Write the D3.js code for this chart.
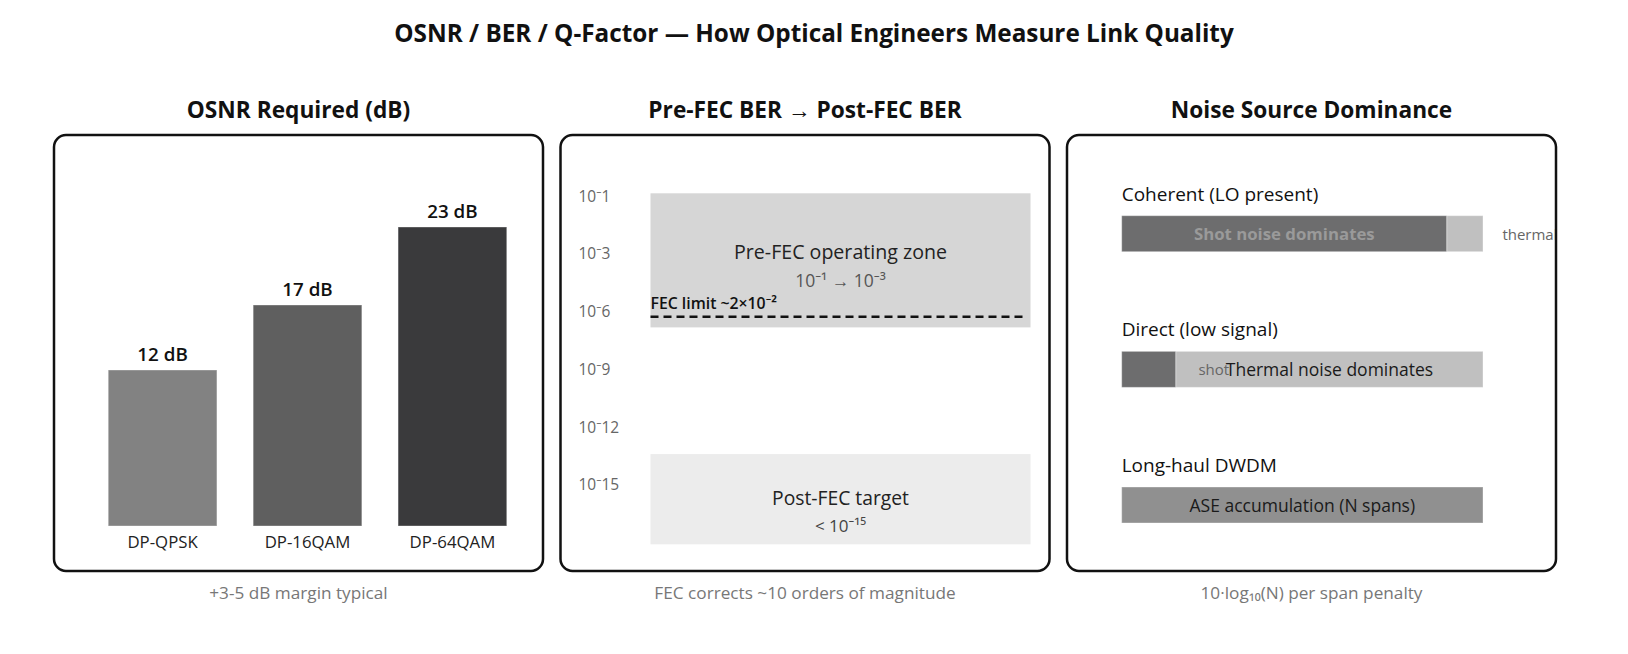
<!DOCTYPE html>
<html>
<head>
<meta charset="utf-8">
<script src="https://cdn.jsdelivr.net/npm/d3@7/dist/d3.min.js"></script>
<style>
  html, body { margin: 0; padding: 0; background: #fff; }
  svg { display: block; font-family: "Open Sans", "Noto Sans", sans-serif; }
</style>
</head>
<body>
<svg id="chart" width="1628" height="654"></svg>
<script>
// ---------- data ----------
const chartTitle = "OSNR / BER / Q-Factor \u2014 How Optical Engineers Measure Link Quality";
const panelTitles = ["OSNR Required (dB)", "Pre-FEC BER \u2192 Post-FEC BER", "Noise Source Dominance"];
const panelCaptions = ["+3-5 dB margin typical", "FEC corrects ~10 orders of magnitude", "10\u00b7log\u2081\u2080(N) per span penalty"];

// Panel 1: OSNR required
const formats = ["DP-QPSK", "DP-16QAM", "DP-64QAM"];
const osnrValues = [12, 17, 23];
const barColors = ["#828282", "#5f5f5f", "#3a3a3c"];

// Panel 2: BER ladder
const berTickLabels = ["10\u207b1", "10\u207b3", "10\u207b6", "10\u207b9", "10\u207b12", "10\u207b15"];
const berZones = [
  { name: "Pre-FEC operating zone", sub: "10\u207b\u00b9 \u2192 10\u207b\u00b3", from: 0, to: 38.2, fill: "#d6d6d6" },
  { name: "Post-FEC target", sub: "< 10\u207b\u00b9\u2075", from: 74.3, to: 100, fill: "#ececec" }
];
const fecLimit = { label: "FEC limit ~2\u00d710\u207b\u00b2", pos: 35.2 };

// Panel 3: noise source dominance (share of bar, %)
const noiseRows = ["Coherent (LO present)", "Direct (low signal)", "Long-haul DWDM"];
const shotShare = [90, 15, 0];
const thermalShare = [10, 85, 0];
const aseShare = [0, 0, 100];
const rowMainLabels = ["Shot noise dominates", "Thermal noise dominates", "ASE accumulation (N spans)"];
const rowMinorLabels = ["thermal", "shot", ""];

// ---------- layout ----------
const svg = d3.select("#chart");
const W = 1628;
const panelW = 489, panelH = 436, panelTop = 135;
const panelX = d3.scalePoint().domain([0, 1, 2]).range([54, 1067]);

svg.append("text")
  .attr("x", W / 2).attr("y", 42)
  .attr("text-anchor", "middle")
  .attr("font-size", 24.3).attr("font-weight", 700).attr("fill", "#111")
  .text(chartTitle);

const defs = svg.append("defs");

[0, 1, 2].forEach(i => {
  const x0 = panelX(i);
  defs.append("clipPath").attr("id", "clip" + i)
    .append("rect").attr("x", x0 + 1).attr("y", panelTop).attr("width", panelW - 2).attr("height", panelH).attr("rx", 12);
  svg.append("text")
    .attr("x", x0 + panelW / 2).attr("y", 118)
    .attr("text-anchor", "middle")
    .attr("font-size", 22.7).attr("font-weight", 700).attr("fill", "#111")
    .text(panelTitles[i]);
  svg.append("text")
    .attr("x", x0 + panelW / 2).attr("y", 599)
    .attr("text-anchor", "middle")
    .attr("font-size", 17.2).attr("fill", "#777")
    .text(panelCaptions[i]);
});

// ---------- Panel 1 ----------
(function () {
  const x0 = panelX(0);
  const g = svg.append("g").attr("clip-path", "url(#clip0)");
  const x = d3.scaleBand().domain(formats).range([x0 + 18, x0 + panelW]).padding(0.25);
  const y = d3.scaleLinear().domain([0, 25]).range([526, 201]);
  g.selectAll("rect.bar").data(formats).join("rect")
    .attr("class", "bar")
    .attr("x", d => x(d)).attr("width", x.bandwidth())
    .attr("y", (d, i) => y(osnrValues[i])).attr("height", (d, i) => y(0) - y(osnrValues[i]))
    .attr("fill", (d, i) => barColors[i])
    .attr("stroke", "rgba(255,255,255,0.35)").attr("stroke-width", 1);
  g.selectAll("text.val").data(formats).join("text")
    .attr("class", "val")
    .attr("x", d => x(d) + x.bandwidth() / 2)
    .attr("y", (d, i) => y(osnrValues[i]) - 9)
    .attr("text-anchor", "middle")
    .attr("font-size", 18.8).attr("font-weight", 600).attr("fill", "#111")
    .text((d, i) => osnrValues[i] + " dB");
  g.selectAll("text.cat").data(formats).join("text")
    .attr("class", "cat")
    .attr("x", d => x(d) + x.bandwidth() / 2)
    .attr("y", y(0) + 22)
    .attr("text-anchor", "middle")
    .attr("font-size", 16.8).attr("fill", "#222")
    .text(d => d);
})();

// ---------- Panel 2 ----------
(function () {
  const x0 = panelX(1);
  const g = svg.append("g").attr("clip-path", "url(#clip1)");
  const yT = d3.scalePoint().domain(berTickLabels).range([195.7, 484.3]);
  const yZ = d3.scaleLinear().domain([0, 100]).range([193.3, 544.3]);
  const xZ = d3.scaleLinear().domain([0, 100]).range([x0 + 90, x0 + 470]);
  g.selectAll("text.tick").data(berTickLabels).join("text")
    .attr("class", "tick")
    .attr("x", x0 + 18).attr("y", d => yT(d))
    .attr("dominant-baseline", "central")
    .attr("font-size", 15.5).attr("fill", "#666")
    .text(d => d);
  g.selectAll("rect.zone").data(berZones).join("rect")
    .attr("class", "zone")
    .attr("x", xZ(0)).attr("width", xZ(100) - xZ(0))
    .attr("y", d => yZ(d.from)).attr("height", d => yZ(d.to) - yZ(d.from))
    .attr("fill", d => d.fill);
  // zone labels
  const pre = berZones[0], post = berZones[1];
  const cx = (xZ(0) + xZ(100)) / 2;
  g.append("text").attr("x", cx).attr("y", yZ(pre.from) + 66)
    .attr("text-anchor", "middle").attr("font-size", 19.6).attr("fill", "#222").text(pre.name);
  g.append("text").attr("x", cx).attr("y", yZ(pre.from) + 94)
    .attr("text-anchor", "middle").attr("font-size", 17.5).attr("fill", "#555").text(pre.sub);
  g.append("text").attr("x", cx).attr("y", yZ(post.from) + 51)
    .attr("text-anchor", "middle").attr("font-size", 19.3).attr("fill", "#222").text(post.name);
  g.append("text").attr("x", cx).attr("y", yZ(post.from) + 78)
    .attr("text-anchor", "middle").attr("font-size", 17).attr("fill", "#444").text(post.sub);
  // FEC limit
  g.append("line")
    .attr("x1", xZ(0)).attr("x2", xZ(98.8))
    .attr("y1", yZ(fecLimit.pos)).attr("y2", yZ(fecLimit.pos))
    .attr("stroke", "#111").attr("stroke-width", 2.5).attr("stroke-dasharray", "8,5");
  g.append("text").attr("x", xZ(0)).attr("y", yZ(fecLimit.pos) - 8)
    .attr("font-size", 15.8).attr("font-weight", 600).attr("fill", "#111").text(fecLimit.label);
})();

// ---------- Panel 3 ----------
(function () {
  const x0 = panelX(2);
  const g = svg.append("g").attr("clip-path", "url(#clip2)");
  const yR = d3.scalePoint().domain(noiseRows).range([215.7, 487]);
  const x = d3.scaleLinear().domain([0, 100]).range([x0 + 54.7, x0 + 416]);
  const barH = 36;
  g.selectAll("text.rowlab").data(noiseRows).join("text")
    .attr("class", "rowlab")
    .attr("x", x(0)).attr("y", d => yR(d) - 15)
    .attr("font-size", 19).attr("fill", "#111")
    .text(d => d);
  noiseRows.forEach((r, i) => {
    const y0 = yR(r);
    const segs = [];
    let acc = 0;
    if (shotShare[i] > 0) { segs.push({ k: "shot", a: acc, b: acc + shotShare[i], fill: "#6d6d6e" }); acc += shotShare[i]; }
    if (thermalShare[i] > 0) { segs.push({ k: "thermal", a: acc, b: acc + thermalShare[i], fill: "#c0c0c0" }); acc += thermalShare[i]; }
    if (aseShare[i] > 0) { segs.push({ k: "ase", a: acc, b: acc + aseShare[i], fill: "#909090" }); acc += aseShare[i]; }
    g.selectAll(null).data(segs).join("rect")
      .attr("x", d => x(d.a)).attr("width", d => x(d.b) - x(d.a))
      .attr("y", y0).attr("height", barH)
      .attr("fill", d => d.fill)
      .attr("stroke", "rgba(255,255,255,0.35)").attr("stroke-width", 1);
    const major = segs.reduce((m, s) => (s.b - s.a > m.b - m.a ? s : m), segs[0]);
    const minor = segs.find(s => s !== major);
    if (minor && rowMinorLabels[i]) {
      g.append("text")
        .attr("x", (x(minor.a) + x(minor.b)) / 2 + 65).attr("y", y0 + barH / 2)
        .attr("dominant-baseline", "central").attr("text-anchor", "middle")
        .attr("font-size", 15).attr("fill", "#666")
        .text(rowMinorLabels[i]);
    }
    const isDark = major.k === "shot";
    g.append("text")
      .attr("x", (x(major.a) + x(major.b)) / 2).attr("y", y0 + barH / 2)
      .attr("dominant-baseline", "central").attr("text-anchor", "middle")
      .attr("font-size", isDark ? 16.8 : 17.5).attr("font-weight", isDark ? 700 : 400)
      .attr("fill", isDark ? "#9a9a9a" : "#1a1a1a")
      .text(rowMainLabels[i]);
  });
})();

// panel borders on top
[0, 1, 2].forEach(i => {
  svg.append("rect")
    .attr("x", panelX(i)).attr("y", panelTop).attr("width", panelW).attr("height", panelH)
    .attr("rx", 12).attr("fill", "none").attr("stroke", "#111").attr("stroke-width", 2.5);
});
</script>
</body>
</html>
